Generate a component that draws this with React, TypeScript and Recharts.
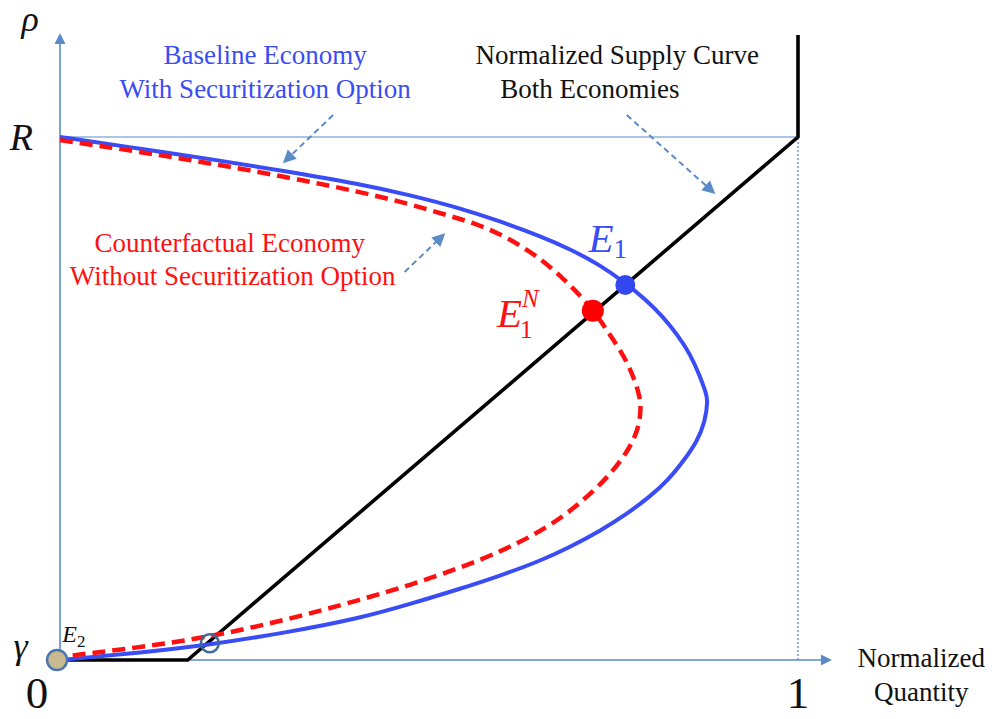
import React from 'react';
import { LineChart, Line, XAxis, YAxis, ReferenceLine, ReferenceDot } from 'recharts';

// quantity normalized to [0, 1]; rho normalized so gamma = 0 and R = 1
const blueQ = [
  0, 0.102, 0.203, 0.305, 0.407, 0.474, 0.542, 0.596, 0.65, 0.691, 0.732, 0.766, 0.793, 0.816, 0.836, 0.854, 0.867, 0.875, 0.878,
  0.874, 0.863, 0.844, 0.824, 0.799, 0.766, 0.732, 0.691, 0.65, 0.596, 0.542, 0.474, 0.407, 0.305, 0.203, 0.102, 0,
];
const blueRho = [
  1, 0.979, 0.958, 0.935, 0.91, 0.889, 0.864, 0.839, 0.811, 0.786, 0.755, 0.721, 0.69, 0.658, 0.623, 0.585, 0.543, 0.512, 0.497,
  0.455, 0.417, 0.379, 0.344, 0.312, 0.277, 0.247, 0.216, 0.189, 0.161, 0.136, 0.107, 0.08, 0.052, 0.029, 0.013, 0,
];

const redQ = [
  0, 0.102, 0.203, 0.305, 0.407, 0.474, 0.528, 0.569, 0.61, 0.65, 0.684, 0.711, 0.732, 0.748, 0.766, 0.779, 0.786, 0.787,
  0.785, 0.775, 0.759, 0.737, 0.711, 0.678, 0.637, 0.596, 0.542, 0.474, 0.407, 0.305, 0.203, 0.102, 0,
];
const redRho = [
  0.994, 0.973, 0.95, 0.924, 0.895, 0.872, 0.849, 0.832, 0.805, 0.769, 0.727, 0.688, 0.65, 0.616, 0.577, 0.535, 0.501, 0.482,
  0.449, 0.413, 0.379, 0.342, 0.308, 0.27, 0.235, 0.207, 0.176, 0.143, 0.115, 0.076, 0.044, 0.023, 0.006,
];

const supplyQ = [0, 0.173, 1, 1];
const supplyRho = [0, 0, 1, 1.195];

const pointNames = ['E1', 'E1N', 'E2', 'kink'];
const pointQ = [0.766, 0.722, -0.004, 0.203];
const pointRho = [0.717, 0.668, 0, 0.032];

const toRows = (q: number[], rho: number[]) => q.map((v, i) => ({ q: v, rho: rho[i] }));
const blueData = toRows(blueQ, blueRho);
const redData = toRows(redQ, redRho);
const supplyData = toRows(supplyQ, supplyRho);

const SERIF = '"Liberation Serif", "Times New Roman", serif';
const BLUE = '#3a4cf5';
const RED = '#ff1010';
const STEEL = '#5b8bc6';

const arrow = (color: string, width: number, dash: string | undefined, head: number) => (p: any) => {
  const { x1, y1, x2, y2 } = p;
  const a = Math.atan2(y2 - y1, x2 - x1);
  const c = Math.cos(a);
  const s = Math.sin(a);
  const bx = x2 - head * c;
  const by = y2 - head * s;
  const hw = head * 0.5;
  const pts = `${x2},${y2} ${bx - hw * s},${by + hw * c} ${bx + hw * s},${by - hw * c}`;
  return (
    <g>
      <line x1={x1} y1={y1} x2={bx + 2 * c} y2={by + 2 * s} stroke={color} strokeWidth={width} strokeDasharray={dash} />
      <polygon points={pts} fill={color} />
    </g>
  );
};

const txt = (key: string, x: number, y: number, content: React.ReactNode, style: any) => (
  <ReferenceDot
    key={key}
    x={x}
    y={y}
    r={0}
    ifOverflow="visible"
    shape={(p: any) => (
      <text x={p.cx} y={p.cy} fontFamily={SERIF} {...style}>
        {content}
      </text>
    )}
  />
);

const dotStyle: Record<string, any> = {
  E1: { r: 10, fill: '#3347f0', stroke: 'none' },
  E1N: { r: 11, fill: '#ff0000', stroke: 'none' },
  E2: { r: 10, fill: '#c9b98f', stroke: '#4a78ae', strokeWidth: 2.5 },
  kink: { r: 9, fill: 'none', stroke: '#3d6996', strokeWidth: 2.5 },
};

export default function App() {
  const centered = { textAnchor: 'middle', dominantBaseline: 'central', fontSize: 27 };
  return (
    <div style={{ position: 'absolute', left: 0, top: 0, width: 1003, height: 719, background: '#fff' }}>
      <LineChart width={1003} height={719} margin={{ top: 32.4, right: 57.4, bottom: 59, left: 60 }}>
        <XAxis dataKey="q" type="number" domain={[0, 1.2]} hide />
        <YAxis dataKey="rho" type="number" domain={[0, 1.2]} hide />

        <ReferenceLine
          segment={[{ x: 0, y: 1 }, { x: 1, y: 1 }]}
          stroke="#8fb1da"
          strokeWidth={1.3}
          ifOverflow="visible"
        />
        <ReferenceLine
          segment={[{ x: 1, y: 0 }, { x: 1, y: 1 }]}
          stroke="#6f9bd1"
          strokeWidth={1.5}
          strokeDasharray="2 2"
          ifOverflow="visible"
        />
        <ReferenceLine
          segment={[{ x: 0, y: 0 }, { x: 0, y: 1.199 }]}
          ifOverflow="visible"
          shape={arrow(STEEL, 1.6, undefined, 11)}
        />
        <ReferenceLine
          segment={[{ x: 0, y: 0 }, { x: 1.046, y: 0 }]}
          ifOverflow="visible"
          shape={arrow(STEEL, 1.6, undefined, 11)}
        />

        <ReferenceLine
          segment={[{ x: 0.37, y: 1.042 }, { x: 0.302, y: 0.95 }]}
          ifOverflow="visible"
          shape={arrow(STEEL, 2, '6 4', 13)}
        />
        <ReferenceLine
          segment={[{ x: 0.467, y: 0.742 }, { x: 0.522, y: 0.816 }]}
          ifOverflow="visible"
          shape={arrow(STEEL, 2, '6 4', 13)}
        />
        <ReferenceLine
          segment={[{ x: 0.768, y: 1.042 }, { x: 0.888, y: 0.891 }]}
          ifOverflow="visible"
          shape={arrow(STEEL, 2, '6 4', 13)}
        />

        <Line data={supplyData} dataKey="rho" type="linear" stroke="#000" strokeWidth={3.6} dot={false} activeDot={false} isAnimationActive={false} />
        <Line data={blueData} dataKey="rho" type="basis" stroke={BLUE} strokeWidth={4} dot={false} activeDot={false} isAnimationActive={false} />
        <Line data={redData} dataKey="rho" type="basis" stroke={RED} strokeWidth={4.5} strokeDasharray="13 7" dot={false} activeDot={false} isAnimationActive={false} />

        {pointNames.map((n, i) => (
          <ReferenceDot key={n} x={pointQ[i]} y={pointRho[i]} ifOverflow="visible" {...dotStyle[n]} />
        ))}

        {txt('t1', 0.278, 1.157, 'Baseline Economy', { ...centered, fill: BLUE })}
        {txt('t2', 0.278, 1.092, 'With Securitization Option', { ...centered, fill: BLUE })}
        {txt('t3', 0.755, 1.157, 'Normalized Supply Curve', { ...centered, fill: '#111' })}
        {txt('t4', 0.718, 1.092, 'Both Economies', { ...centered, fill: '#111' })}
        {txt('t5', 0.23, 0.797, 'Counterfactual Economy', { ...centered, fill: RED })}
        {txt('t6', 0.234, 0.734, 'Without Securitization Option', { ...centered, fill: RED })}
        {txt('t7', 1.167, 0.004, 'Normalized', { ...centered, fill: '#111' })}
        {txt('t8', 1.167, -0.061, 'Quantity', { ...centered, fill: '#111' })}

        {txt('rho', -0.052, 1.203, '\u03c1', { fontSize: 36, fontStyle: 'italic', fill: '#111' })}
        {txt('R', -0.068, 0.975, 'R', { fontSize: 38, fontStyle: 'italic', fill: '#111' })}
        {txt('gamma', -0.063, 0.004, '\u03b3', { fontSize: 36, fontStyle: 'italic', fill: '#111' })}
        {txt('zero', -0.031, -0.092, '0', { fontSize: 45, textAnchor: 'middle', fill: '#111' })}
        {txt('one', 1.0, -0.092, '1', { fontSize: 45, textAnchor: 'middle', fill: '#111' })}

        {txt('e1', 0.716, 0.78, (
          <>
            <tspan fontStyle="italic">E</tspan>
            <tspan fontSize={27} dy={6}>1</tspan>
          </>
        ), { fontSize: 41, fill: BLUE })}
        {txt('e1n', 0.592, 0.637, (
          <>
            <tspan fontStyle="italic">E</tspan>
            <tspan fontSize={25} fontStyle="italic" dy={-20}>N</tspan>
            <tspan fontSize={26} dx={-19} dy={31}>1</tspan>
          </>
        ), { fontSize: 41, fill: RED })}
        {txt('e2', 0.003, 0.034, (
          <>
            <tspan fontStyle="italic">E</tspan>
            <tspan fontSize={17} dy={5}>2</tspan>
          </>
        ), { fontSize: 24, fill: '#111' })}
      </LineChart>
    </div>
  );
}
